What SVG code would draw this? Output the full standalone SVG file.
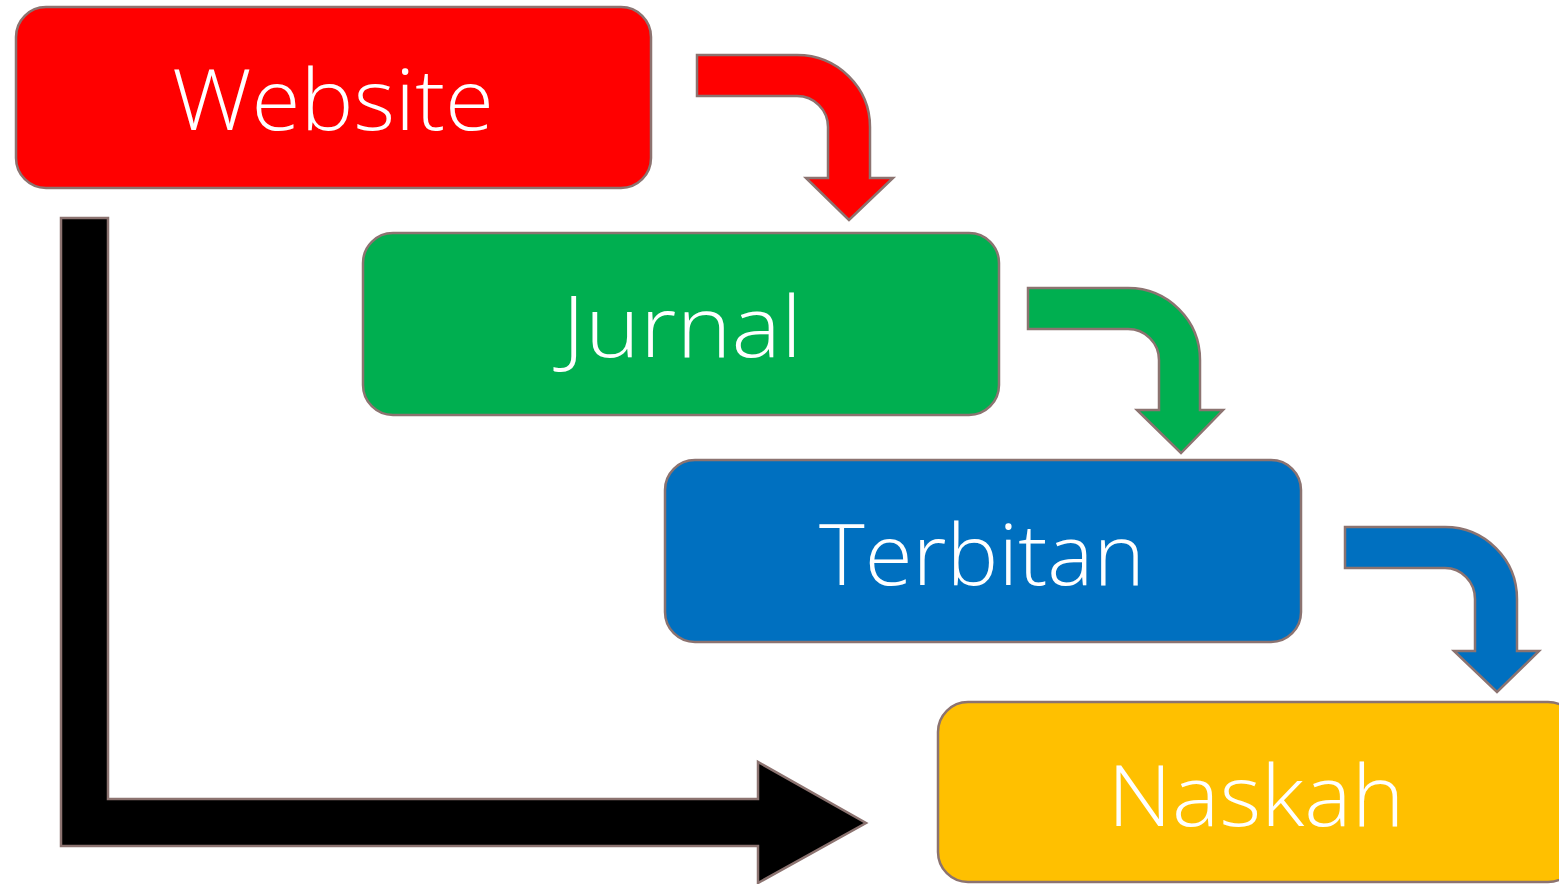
<svg xmlns="http://www.w3.org/2000/svg" width="1559" height="884" viewBox="0 0 1559 884">
<style>
.box{stroke:#8C7370;stroke-width:2.5}
.arr{stroke:#8C7370;stroke-width:2.5;stroke-linejoin:miter}
.lbl{font-family:"Open Sans","Liberation Sans",sans-serif;font-weight:300;font-size:84px;fill:#fff;text-anchor:middle}
</style>
<rect width="1559" height="884" fill="#fff"/>
<g id="connectors">
<path class="arr" fill="#000000" d="M61,218 H108 V799 H758 V762 L866,823 L758,883 V846 H61 Z"/>
<path class="arr" fill="#FF0000" d="M697,55 H797 A73,72 0 0 1 870,127 V178 H893 L849,220 L806,178 H828 V127 A31,31 0 0 0 797,96 H697 Z"/>
<path class="arr" fill="#00AF50" d="M1028,288 H1128 A72,72 0 0 1 1200,360 V410 H1223 L1181,453 L1137,410 H1159 V360 A31,31 0 0 0 1128,329 H1028 Z"/>
<path class="arr" fill="#0070C0" d="M1345,527 H1445 A72,72 0 0 1 1517,599 V651 H1539 L1497,692 L1454,651 H1475 V599 A30,31 0 0 0 1445,568 H1345 Z"/>
</g>
<g id="website">
<rect class="box" x="16" y="7" width="635" height="181" rx="30" fill="#FF0000"/>
<text class="lbl" x="333" y="130" textLength="322" lengthAdjust="spacingAndGlyphs">Website</text>
</g>
<g id="jurnal">
<rect class="box" x="363" y="233" width="636" height="182" rx="30" fill="#00AF50"/>
<text class="lbl" x="682" y="357" textLength="240" lengthAdjust="spacingAndGlyphs">Jurnal</text>
</g>
<g id="terbitan">
<rect class="box" x="665" y="460" width="636" height="182" rx="30" fill="#0070C0"/>
<text class="lbl" x="982" y="585" textLength="326" lengthAdjust="spacingAndGlyphs">Terbitan</text>
</g>
<g id="naskah">
<rect class="box" x="938" y="702" width="640" height="180" rx="30" fill="#FFC000"/>
<text class="lbl" x="1256" y="826" textLength="297" lengthAdjust="spacingAndGlyphs">Naskah</text>
</g>
</svg>
